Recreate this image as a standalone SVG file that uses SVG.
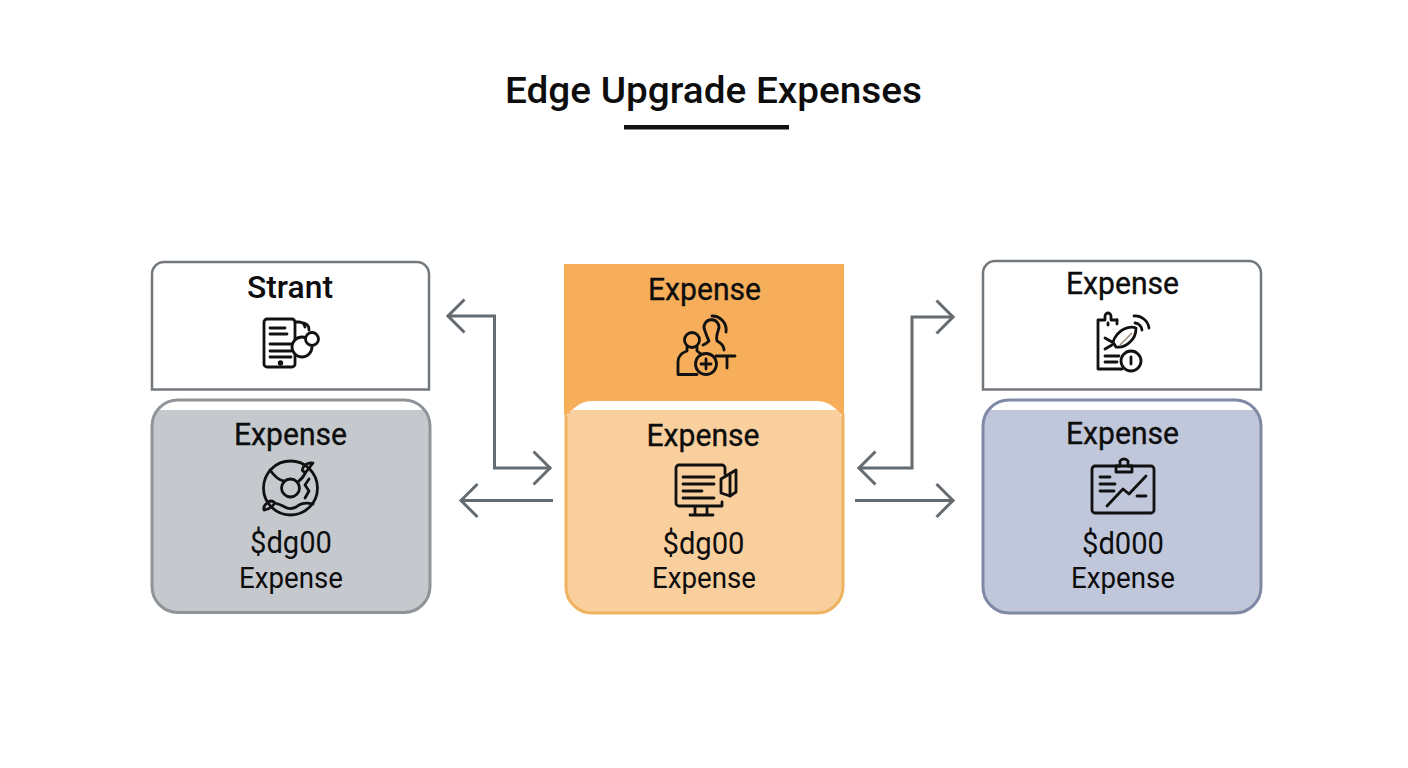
<svg xmlns="http://www.w3.org/2000/svg" width="1408" height="768" viewBox="0 0 1408 768">
<style>
text{font-family:Roboto,"Liberation Sans",sans-serif;fill:#0d0d0d;text-anchor:middle}
.h{font-size:31px;font-weight:400;stroke:#0d0d0d;stroke-width:.35}
.b{font-size:31px;font-weight:500}
.s{font-size:29.500px;font-weight:400}
.m{font-size:30.500px;font-weight:400}
.i{fill:none;stroke:#111;stroke-width:2.800;stroke-linecap:round;stroke-linejoin:round}
.c{fill:none;stroke:#646b71;stroke-width:3;marker-start:url(#h);marker-end:url(#h)}
.c1{fill:none;stroke:#646b71;stroke-width:3;marker-end:url(#h)}
</style>
<defs>
<marker id="h" markerUnits="userSpaceOnUse" markerWidth="44" markerHeight="44" refX="22" refY="22" orient="auto-start-reverse" viewBox="0 0 44 44">
<path d="M4.500 5.500L21 22L4.500 38.500" fill="none" stroke="#646b71" stroke-width="3"/>
</marker>
</defs>
<rect width="1408" height="768" fill="#fff"/>
<g id="title">
<text x="713.500" y="103" style="font-size:37px;font-weight:500" textLength="417" lengthAdjust="spacingAndGlyphs">Edge Upgrade Expenses</text>
<rect x="624" y="125" width="165" height="4.500" fill="#111"/>
</g>
<g id="connectors">
<path class="c" d="M447 316H494.500V468H551"/>
<path class="c1" d="M553 500.500H460"/>
<path class="c" d="M954 317H912V468H858"/>
<path class="c1" d="M855 500.500H954"/>
</g>
<g id="node-left-top">
<path d="M152 389.500V274a12 12 0 0 1 12-12H417a12 12 0 0 1 12 12V389.500Z" fill="#fff" stroke="#73787d" stroke-width="2.500"/>
<text class="b" x="290" y="298" textLength="86" lengthAdjust="spacingAndGlyphs">Strant</text>
<g class="i">
<rect x="264" y="319" width="31" height="48" rx="3"/>
<path d="M270 328H285M270 334H287M270 344H292M270 351H291M270 357H291"/>
<circle cx="280.500" cy="363" r="1.300" fill="#111"/>
<path d="M295 322h4a6 6 0 0 1 6 5M304 323a7 7 0 0 1 5 7"/>
<circle cx="302" cy="347" r="10" fill="#fff"/>
<circle cx="312" cy="339" r="6.500" fill="#fff"/>
</g>
</g>
<g id="node-left-bottom">
<rect x="152" y="400" width="278" height="212.500" rx="26" fill="#fff"/>
<path d="M157.500 410H424.500A26 26 0 0 1 430 426V586.500a26 26 0 0 1-26 26H178a26 26 0 0 1-26-26V426A26 26 0 0 1 157.500 410Z" fill="#c5c9cd"/>
<rect x="152" y="400" width="278" height="212.500" rx="26" fill="none" stroke="#8f9499" stroke-width="3"/>
<text class="h" x="290.500" y="445" textLength="113" lengthAdjust="spacingAndGlyphs">Expense</text>
<g class="i">
<circle cx="290.500" cy="488" r="27"/>
<circle cx="290.500" cy="488" r="9"/>
<path d="M270 470Q277 480 284 481M298 482Q303 478 306 472L313 463Q308 462 304 466Q300 472 306 472M309 479L305 485L309 491L305 498"/>
<path d="M264 510Q271 509 275 503Q271 499 267 503Q263 506 264 510ZM275 503Q282 505 287 508Q293 510 299 505Q304 502 313 504"/>
</g>
<text class="m" x="291" y="553" textLength="82" lengthAdjust="spacingAndGlyphs">$dg00</text>
<text class="s" x="291" y="588" textLength="104" lengthAdjust="spacingAndGlyphs">Expense</text>
</g>
<g id="node-center-top">
<rect x="564" y="264" width="280" height="150" fill="#f6ae5b"/>
<text class="h" x="704.500" y="300" textLength="113" lengthAdjust="spacingAndGlyphs">Expense</text>
<g class="i">
<circle cx="692" cy="340" r="7.500"/>
<path d="M687 347V351Q678 354 678 362V374.500H697M697 347V351L701 354"/>
<path d="M705 331A7.500 7.500 0 1 1 718 331Q716 337 717 341Q723 344 724 349V350M705 331Q707 337 709 341Q706 344 703 345"/>
<path d="M712 316A14 14 0 0 1 726 332"/>
<circle cx="706" cy="364" r="10.500"/>
<path d="M706 359V369M701 364H711M716 356H735M727 356V368"/>
</g>
</g>
<g id="node-center-bottom">
<rect x="566" y="401" width="277" height="212" rx="26" fill="#fff"/>
<path d="M571 410H838A26 26 0 0 1 843 427V587a26 26 0 0 1-26 26H592a26 26 0 0 1-26-26V427A26 26 0 0 1 571 410Z" fill="#f9cf9e"/>
<path d="M566 414V587a26 26 0 0 0 26 26H817a26 26 0 0 0 26-26V414" fill="none" stroke="#efb261" stroke-width="3"/>
<text class="h" x="703" y="446" textLength="113" lengthAdjust="spacingAndGlyphs">Expense</text>
<g class="i">
<path d="M722 502V506H679a3 3 0 0 1-3-3V468a3 3 0 0 1 3-3H722a3 3 0 0 1 3 3V474"/>
<path d="M683 477H714M683 484H714M683 491H702M683 498H714"/>
<path d="M721 479L736 470V492L730 496L721 493Z"/>
<path d="M730 474V496"/>
<path d="M695 507V514M707 507V514M690 515H713"/>
</g>
<text class="m" x="703.500" y="554" textLength="82" lengthAdjust="spacingAndGlyphs">$dg00</text>
<text class="s" x="704" y="588" textLength="104" lengthAdjust="spacingAndGlyphs">Expense</text>
</g>
<g id="node-right-top">
<path d="M983 389.500V273a12 12 0 0 1 12-12H1249a12 12 0 0 1 12 12V389.500Z" fill="#fff" stroke="#73787d" stroke-width="2.500"/>
<text class="h" x="1122.500" y="294" textLength="113" lengthAdjust="spacingAndGlyphs">Expense</text>
<g class="i">
<path d="M1117 320H1111V316A3 3 0 0 0 1105 316V320H1098V369H1122"/>
<path d="M1117 320V324"/>
<path d="M1108 323V325"/>
<path d="M1113 342Q1116 333 1124 329Q1131 326 1136 328Q1136 337 1130 342Q1124 348 1116 347Z"/>
<path d="M1105 338L1112 342M1105 349L1112 345M1105 356H1119M1105 362H1117"/>
<path d="M1134 316A14 14 0 0 1 1149 328M1135 323A8 8 0 0 1 1142 330"/>
<circle cx="1131" cy="361" r="10"/>
<path d="M1131 357V364"/>
</g>
<path d="M1120 345L1132 333" stroke="#9a8570" stroke-width="1.500" fill="none"/>
</g>
<g id="node-right-bottom">
<rect x="983" y="400" width="278" height="213" rx="26" fill="#fff"/>
<path d="M988.500 410H1255.500A26 26 0 0 1 1261 426V587a26 26 0 0 1-26 26H1009a26 26 0 0 1-26-26V426A26 26 0 0 1 988.500 410Z" fill="#c1c7da"/>
<rect x="983" y="400" width="278" height="213" rx="26" fill="none" stroke="#7f89a6" stroke-width="3"/>
<text class="h" x="1122.500" y="444" textLength="113" lengthAdjust="spacingAndGlyphs">Expense</text>
<g class="i">
<rect x="1092" y="466" width="62" height="47" rx="3"/>
<path d="M1116 466V472H1132V466H1128V461A5 5 0 0 0 1120 461V466Z"/>
<path d="M1100 477H1110M1100 484H1115M1100 491H1114M1137 496H1146"/>
<path d="M1107 506L1123 489L1129 494L1146 476"/>
</g>
<text class="m" x="1123" y="554" textLength="82" lengthAdjust="spacingAndGlyphs">$d000</text>
<text class="s" x="1123" y="588" textLength="104" lengthAdjust="spacingAndGlyphs">Expense</text>
</g>
</svg>
